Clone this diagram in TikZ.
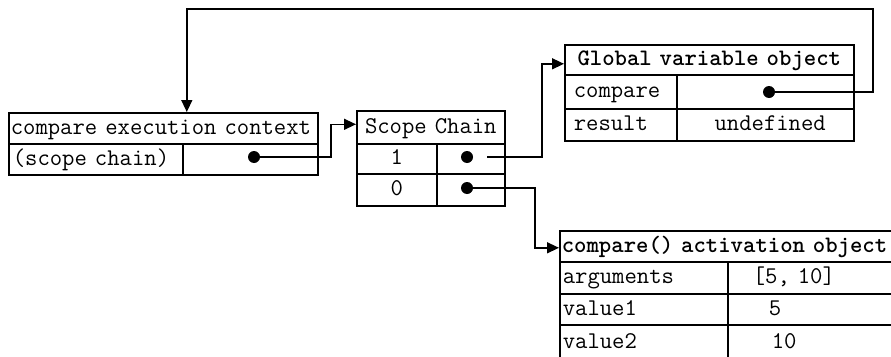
\documentclass[tikz,border=0pt]{standalone}
\usetikzlibrary{arrows.meta}

\tikzset{
  cell/.style={draw, line width=1.6pt, anchor=north west, inner ysep=0pt,
    text height=17pt, text depth=5pt, font=\ttfamily\fontsize{24}{28}\selectfont},
  lcell/.style={cell, align=left},
  ccell/.style={cell, align=center, inner xsep=0pt},
  bold/.style={font=\ttfamily\bfseries\fontsize{23.6}{28}\selectfont},
  ptr/.style={circle, fill, inner sep=0pt, minimum size=12pt},
  link/.style={line width=1.4pt, -{Triangle[length=12pt, width=11pt]}},
}

\begin{document}
\begin{tikzpicture}[x=1pt, y=-1pt]
\useasboundingbox (0,0) rectangle (891,356);
\clip (0,0) rectangle (891,356);

% compare execution context
\node[lcell, inner xsep=2pt, text width=305pt, minimum height=31pt] (ec-head) at (8,112) {compare execution context};
\node[lcell, inner xsep=4pt, text width=166pt, minimum height=31pt] (ec-key) at (8,143) {(scope chain)};
\node[cell, minimum width=135pt, minimum height=31pt] (ec-val) at (182,143) {};
\node[ptr] (ec-dot) at (254,157) {};

% scope chain
\node[ccell, text width=148pt, minimum height=33pt] (sc-head) at (356,110) {Scope Chain};
\node[ccell, text width=80pt, minimum height=30pt] (sc-k1) at (356,143) {1};
\node[cell, minimum width=68pt, minimum height=30pt] (sc-v1) at (436,143) {};
\node[ccell, text width=80pt, minimum height=32pt] (sc-k0) at (356,173) {0};
\node[cell, minimum width=68pt, minimum height=32pt] (sc-v0) at (436,173) {};
\node[ptr] (sc-dot1) at (467,157) {};
\node[ptr] (sc-dot0) at (467,188) {};

% global variable object
\node[ccell, bold, text width=289pt, minimum height=30pt] (gv-head) at (564,44) {Global variable object};
\node[lcell, inner xsep=9pt, text width=94pt, minimum height=34pt] (gv-k1) at (564,74) {compare};
\node[cell, minimum width=177pt, minimum height=34pt] (gv-v1) at (676,74) {};
\node[lcell, inner xsep=9pt, text width=94pt, minimum height=32pt] (gv-k2) at (564,108) {result};
\node[cell, align=right, inner xsep=28pt, text width=121pt, minimum height=32pt] (gv-v2) at (676,108) {undefined};
\node[ptr] (gv-dot) at (769,92) {};

% compare() activation object
\node[lcell, bold, inner xsep=2pt, text width=336pt, minimum height=31pt] (ao-head) at (559,230) {compare() activation object};
\node[lcell, inner xsep=3pt, text width=162pt, minimum height=32pt] (ao-k1) at (559,261) {arguments};
\node[lcell, inner xsep=25pt, text width=122pt, minimum height=32pt] (ao-v1) at (727,261) {[5, 10]};
\node[lcell, inner xsep=3pt, text width=162pt, minimum height=31pt] (ao-k2) at (559,293) {value1};
\node[lcell, inner xsep=41pt, text width=90pt, minimum height=31pt] (ao-v2) at (727,293) {5};
\node[lcell, inner xsep=3pt, text width=162pt, minimum height=36pt] (ao-k3) at (559,324) {value2};
\node[lcell, inner xsep=44pt, text width=84pt, minimum height=36pt] (ao-v3) at (727,324) {10};

% pointers
\draw[link] (ec-dot) -- ++(77,0) |- ([yshift=3pt]sc-head.west);
\draw[link, shorten <=14pt] (sc-dot1) -- ++(75,0) |- ([yshift=-4pt]gv-head.west);
\draw[link] (sc-dot0) -- ++(68,0) |- ([yshift=-1.5pt]ao-head.west);
\coordinate (back) at (873,9);
\draw[link] (gv-dot) -| (back) -| ([xshift=23.5pt]ec-head.north);
\end{tikzpicture}
\end{document}
